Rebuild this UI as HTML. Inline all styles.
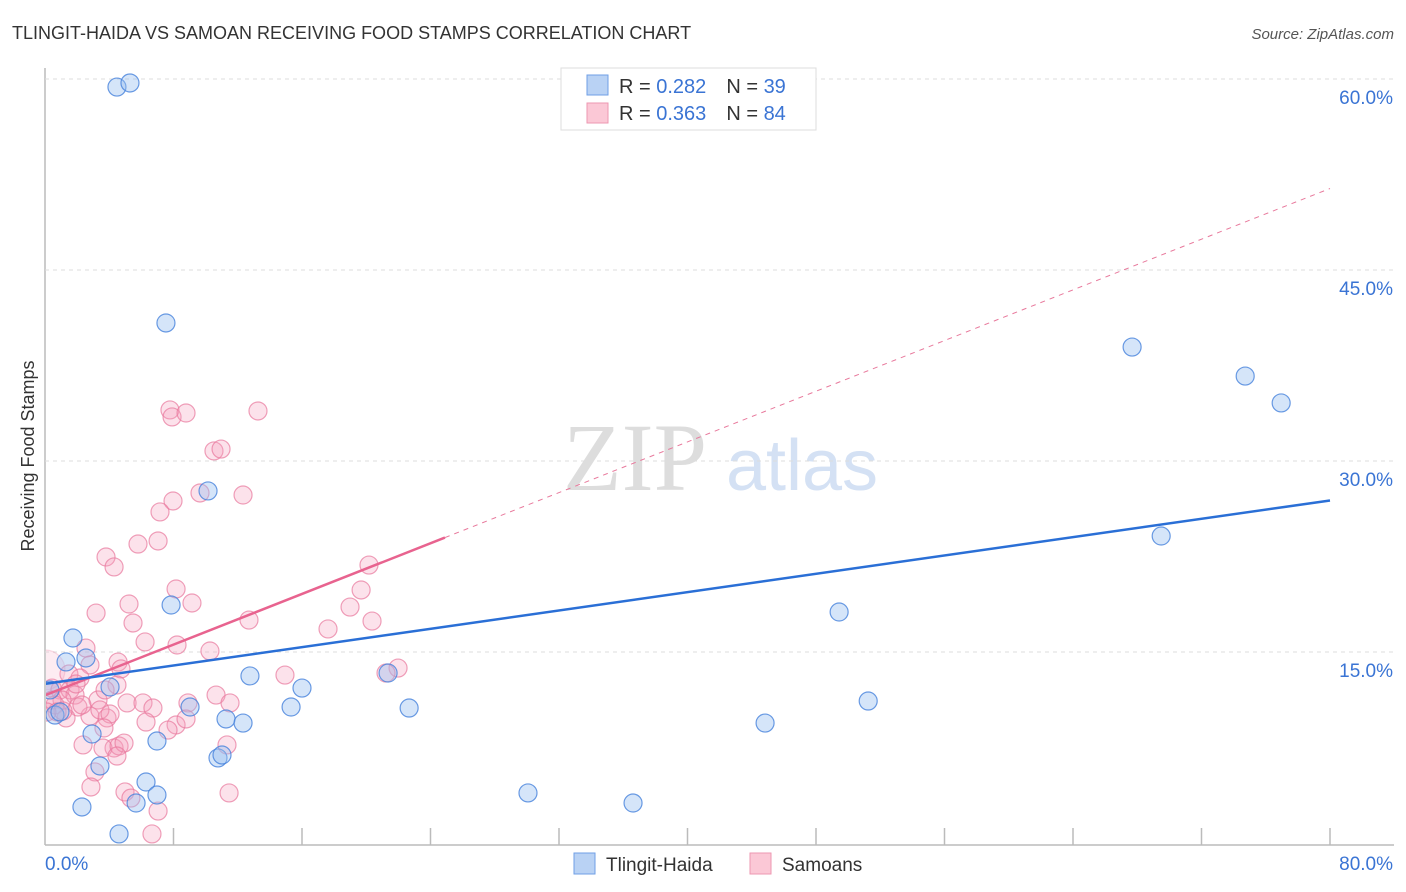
<!DOCTYPE html>
<html><head><meta charset="utf-8">
<style>
body{margin:0;background:#fff;font-family:"Liberation Sans",sans-serif;}
#wrap{position:relative;width:1406px;height:892px;overflow:hidden;}
</style></head>
<body>
<div id="wrap">
<svg id="chart" width="1406" height="892">
  <defs><clipPath id="plotclip"><rect x="46" y="60" width="1360" height="785"/></clipPath></defs>
  <text x="12" y="39" font-size="18" fill="#333">TLINGIT-HAIDA VS SAMOAN RECEIVING FOOD STAMPS CORRELATION CHART</text>
  <text x="1394" y="39" font-size="15" fill="#555" font-style="italic" text-anchor="end">Source: ZipAtlas.com</text>
  <text x="635" y="490" font-size="96" fill="#ddd" font-family="Liberation Serif,serif" text-anchor="middle">ZIP</text>
  <text x="802" y="490" font-size="72" fill="#d4e1f4" text-anchor="middle">atlas</text>
  <text transform="translate(34,456) rotate(-90)" font-size="18" fill="#333" text-anchor="middle">Receiving Food Stamps</text>
  <g id="grid"></g>
  <g id="marks" clip-path="url(#plotclip)"></g>
  <g>
    <rect x="561" y="68" width="255" height="62" fill="#fff" stroke="#ddd"/>
    <rect x="587" y="75" width="21" height="20" fill="#b9d2f4" stroke="#6f9fe6"/>
    <rect x="587" y="103" width="21" height="20" fill="#fbc8d6" stroke="#ee97b1"/>
    <text x="619" y="93" font-size="20" fill="#333">R = <tspan fill="#3a74d4">0.282</tspan><tspan dx="20">N = </tspan><tspan fill="#3a74d4">39</tspan></text>
    <text x="619" y="120" font-size="20" fill="#333">R = <tspan fill="#3a74d4">0.363</tspan><tspan dx="20">N = </tspan><tspan fill="#3a74d4">84</tspan></text>
  </g>
  <g>
    <rect x="574" y="853" width="21" height="21" fill="#b9d2f4" stroke="#6f9fe6"/>
    <text x="606" y="871" font-size="19" fill="#333">Tlingit-Haida</text>
    <rect x="750" y="853" width="21" height="21" fill="#fbc8d6" stroke="#ee97b1"/>
    <text x="782" y="871" font-size="19" fill="#333">Samoans</text>
  </g>
</svg>
</div>
<script>
const yTicks=[15,30,45,60];
const yTickLabels=["15.0%","30.0%","45.0%","60.0%"];
const xTickLabels=["0.0%","80.0%"];
const tlingitX=[4.48,5.29,7.53,10.15,7.85,1.74,1.31,2.55,0.31,0.62,0.93,4.05,2.93,6.97,3.42,6.29,6.97,5.67,2.30,4.61,9.03,12.76,11.27,12.33,10.77,11.02,16.0,15.32,21.36,22.67,30.07,36.61,44.83,49.44,51.25,67.68,74.72,76.96,69.49];
const tlingitY=[59.37,59.69,40.84,27.65,18.69,16.1,14.22,14.53,12.02,10.05,10.29,12.25,8.56,8.01,6.05,4.79,3.77,3.14,2.83,0.71,10.68,13.12,9.74,9.42,6.68,6.91,12.17,10.68,13.35,10.6,3.93,3.14,9.42,18.14,11.15,38.95,36.67,34.56,24.11];
const samoanX=[7.78,7.91,8.78,13.26,10.52,10.96,9.65,7.97,12.33,7.16,5.79,7.04,3.80,4.30,3.18,5.23,9.15,8.16,5.48,6.23,8.22,10.27,12.70,20.17,19.68,18.99,20.36,17.62,14.94,21.98,21.23,2.55,4.55,4.73,2.80,1.49,2.18,4.48,0.44,0.93,1.56,1.87,3.30,5.11,6.10,6.72,8.90,10.65,8.16,6.29,3.86,2.80,2.05,1.06,0.62,1.31,2.30,3.42,4.05,4.30,3.61,2.37,4.61,4.92,11.33,3.11,2.86,4.98,5.35,7.04,11.46,6.66,0,0.44,0.75,3.67,4.48,8.78,7.66,11.52,1.12,0.12,3.74,1.93];
const samoanY=[34.01,33.46,33.77,33.93,30.79,30.94,27.49,26.86,27.33,26.0,23.48,23.72,22.46,21.68,18.06,18.77,18.85,19.95,17.28,15.79,15.55,15.08,17.51,21.83,19.87,18.53,17.43,16.81,13.19,13.74,13.35,15.31,14.21,13.67,13.98,13.27,12.96,12.41,12.17,12.02,12.02,11.62,11.23,11.0,11.0,10.6,11.0,11.62,9.27,9.5,9.82,9.97,10.68,11.23,10.84,9.82,10.84,10.45,10.13,7.46,7.46,7.7,7.62,7.85,7.7,5.58,4.40,4.01,3.53,2.51,3.93,0.71,13.59,11.23,10.29,9.03,6.83,9.74,8.87,11.0,10.37,10.29,12.02,12.49];
const tlingitTrend=[12.5,0.18];
const samoanTrend=[11.6,0.4975];

const X0=45,X1=1330,Y0=843,PXPER=12.733;
function sx(v){return X0+(X1-X0)*v/80;}
function sy(v){return Y0-v*PXPER;}
const NS="http://www.w3.org/2000/svg";
function mk(tag,attrs,parent){const e=document.createElementNS(NS,tag);for(const k in attrs)e.setAttribute(k,attrs[k]);parent.appendChild(e);return e;}
const grid=document.getElementById('grid');
const marks=document.getElementById('marks');

let a=mk('line',{x1:45,y1:68,x2:45,y2:845,stroke:'#bbb','stroke-width':1.5},grid);


a=mk('line',{x1:45,y1:845,x2:1394,y2:845,stroke:'#bbb','stroke-width':1.5},grid);


for(let i=1;i<=10;i++){
  const t=mk('line',{x1:sx(i*8),y1:828,x2:sx(i*8),y2:845,stroke:'#bbb','stroke-width':1.5},grid);
  
  
}
yTicks.forEach((v,i)=>{
  const g=mk('line',{x1:45,y1:sy(v),x2:1394,y2:sy(v),stroke:'#ddd','stroke-dasharray':'4,4'},grid);
  
  
  const t=mk('text',{x:1393,y:sy(v)+25,'font-size':19,fill:'#3a74d4','text-anchor':'end'},grid);
  t.textContent=yTickLabels[i];
  
  
});
let xl=mk('text',{x:45,y:870,'font-size':19,fill:'#3a74d4'},grid);
xl.textContent=xTickLabels[0];


xl=mk('text',{x:1393,y:870,'font-size':19,fill:'#3a74d4','text-anchor':'end'},grid);
xl.textContent=xTickLabels[1];



samoanX.forEach((x,i)=>{
  const big=(x===0);
  const c=mk('circle',{cx:sx(x),cy:sy(samoanY[i]),r:(big?20:9),fill:(big?'rgba(245,160,188,0.2)':'rgba(245,160,188,0.3)'),stroke:(big?'rgba(232,120,156,0.25)':'rgba(232,120,156,0.7)'),'stroke-width':1.2},marks);
  
  
});
tlingitX.forEach((x,i)=>{
  const c=mk('circle',{cx:sx(x),cy:sy(tlingitY[i]),r:9,fill:'rgba(150,190,240,0.4)',stroke:'rgba(70,130,220,0.8)','stroke-width':1.2},marks);
  
  
});
const pEnd=24.9;
let l=mk('line',{x1:sx(pEnd),y1:sy(samoanTrend[0]+samoanTrend[1]*pEnd),x2:sx(80),y2:sy(samoanTrend[0]+samoanTrend[1]*80),stroke:'#e8799c','stroke-width':1,'stroke-dasharray':'5,5'},marks);


l=mk('line',{x1:sx(0),y1:sy(samoanTrend[0]),x2:sx(pEnd),y2:sy(samoanTrend[0]+samoanTrend[1]*pEnd),stroke:'#e8638f','stroke-width':2.5},marks);


l=mk('line',{x1:sx(0),y1:sy(tlingitTrend[0]),x2:sx(80),y2:sy(tlingitTrend[0]+tlingitTrend[1]*80),stroke:'#2a6fd6','stroke-width':2.5},marks);


</script>
</body></html>
